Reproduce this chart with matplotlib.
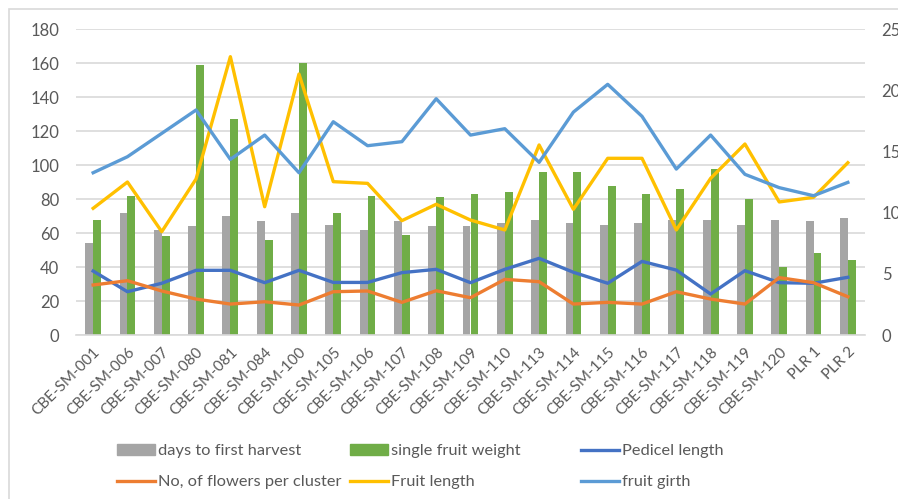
import matplotlib
matplotlib.use("Agg")
import matplotlib.pyplot as plt
import numpy as np
from matplotlib.patches import Rectangle
from matplotlib.lines import Line2D
from matplotlib.patches import Patch

plt.rcParams['font.family'] = ['Lato', 'DejaVu Sans']

categories = ["CBE-SM-001", "CBE-SM-006", "CBE-SM-007", "CBE-SM-080", "CBE-SM-081",
              "CBE-SM-084", "CBE-SM-100", "CBE-SM-105", "CBE-SM-106", "CBE-SM-107",
              "CBE-SM-108", "CBE-SM-109", "CBE-SM-110", "CBE-SM-113", "CBE-SM-114",
              "CBE-SM-115", "CBE-SM-116", "CBE-SM-117", "CBE-SM-118", "CBE-SM-119",
              "CBE-SM-120", "PLR 1", "PLR 2"]

days_to_first_harvest = [54, 72, 62, 64, 70, 67, 72, 65, 62, 67, 64, 64, 66, 68, 66,
                         65, 66, 68, 68, 65, 68, 67, 69]
single_fruit_weight = [68, 82, 58, 159, 127, 56, 160, 72, 82, 59, 81, 83, 84, 96, 96,
                       88, 83, 86, 98, 80, 40, 48, 44]
pedicel_length = [5.23, 3.54, 4.23, 5.29, 5.29, 4.28, 5.29, 4.30, 4.30, 5.10, 5.37,
                  4.28, 5.37, 6.27, 5.13, 4.23, 6.02, 5.31, 3.35, 5.26, 4.28, 4.23, 4.72]
flowers_per_cluster = [4.09, 4.44, 3.60, 2.94, 2.53, 2.72, 2.45, 3.54, 3.60, 2.67, 3.62,
                       3.05, 4.55, 4.36, 2.53, 2.67, 2.53, 3.54, 2.94, 2.53, 4.69, 4.28, 3.13]
fruit_length = [10.36, 12.51, 8.45, 12.76, 22.76, 10.49, 21.34, 12.54, 12.40, 9.35, 10.69,
                9.40, 8.59, 15.54, 10.28, 14.45, 14.45, 8.59, 12.81, 15.62, 10.88, 11.26, 14.09]
fruit_girth = [13.27, 14.58, 16.49, 18.40, 14.36, 16.35, 13.27, 17.44, 15.48, 15.81, 19.32,
               16.35, 16.87, 14.12, 18.23, 20.50, 17.88, 13.57, 16.35, 13.14, 12.05, 11.39, 12.48]

left_ticks = [0, 20, 40, 60, 80, 100, 120, 140, 160, 180]
right_ticks = [0, 5, 10, 15, 20, 25]

c_gray = "#A5A5A5"
c_green = "#70AD47"
c_dblue = "#4472C4"
c_orange = "#ED7D31"
c_yellow = "#FFC000"
c_lblue = "#5B9BD5"
txt = "#595959"
grid = "#D9D9D9"

fig = plt.figure(figsize=(8.98, 4.99), dpi=100)
fig.patches.append(Rectangle((9/898, -0.1), 1.2, 1 - 9/499 + 0.1, transform=fig.transFigure,
                             fill=False, edgecolor=grid, linewidth=1.2))

ax = fig.add_axes([76/898, 1 - 335/499, (865-76)/898, (335-29.3)/499])
x = np.arange(len(categories))
w = 0.23
ax.bar(x - w/2, days_to_first_harvest, width=w, color=c_gray, zorder=2)
ax.bar(x + w/2, single_fruit_weight, width=w, color=c_green, zorder=2)
ax.set_xlim(-0.5, len(categories) - 0.5)
ax.set_ylim(0, 180)
ax.set_yticks(left_ticks)
ax.yaxis.grid(True, color=grid, linewidth=1.2, zorder=0)
ax.set_axisbelow(True)
for s in ["top", "left", "right"]:
    ax.spines[s].set_visible(False)
ax.spines["bottom"].set_color(grid)
ax.spines["bottom"].set_linewidth(1.2)
ax.tick_params(axis="y", length=0, pad=12, labelsize=12, labelcolor=txt)
ax.set_xticks(x)
ax.set_xticklabels(categories, rotation=45, ha="right", rotation_mode="anchor")
ax.tick_params(axis="x", length=0, pad=7, labelsize=11, labelcolor=txt)

ax2 = ax.twinx()
ax2.set_ylim(0, 25)
ax2.set_yticks(right_ticks)
for s in ["top", "left", "right", "bottom"]:
    ax2.spines[s].set_visible(False)
ax2.tick_params(axis="y", length=0, pad=12, labelsize=12, labelcolor=txt)
lw = 2.4
ax2.plot(x, pedicel_length, color=c_dblue, lw=lw)
ax2.plot(x, flowers_per_cluster, color=c_orange, lw=lw)
ax2.plot(x, fruit_length, color=c_yellow, lw=lw)
ax2.plot(x, fruit_girth, color=c_lblue, lw=lw)

cols = [
    ([Patch(color=c_gray), Line2D([], [], color=c_orange, lw=lw)],
     ["days to first harvest", "No, of flowers per cluster"], 117),
    ([Patch(color=c_green), Line2D([], [], color=c_yellow, lw=lw)],
     ["single fruit weight", "Fruit length"], 350),
    ([Line2D([], [], color=c_dblue, lw=lw), Line2D([], [], color=c_lblue, lw=lw)],
     ["Pedicel length", "fruit girth"], 581),
]
for handles, labels, xp in cols:
    fig.legend(handles, labels, loc="upper left", bbox_to_anchor=(xp/898, 1 - 444/499),
               frameon=False, fontsize=11.8, handlelength=2.3, handleheight=0.7,
               handletextpad=0.2, labelspacing=1.0, borderpad=0, borderaxespad=0,
               labelcolor=txt)

fig.savefig("out.png", dpi=100)
